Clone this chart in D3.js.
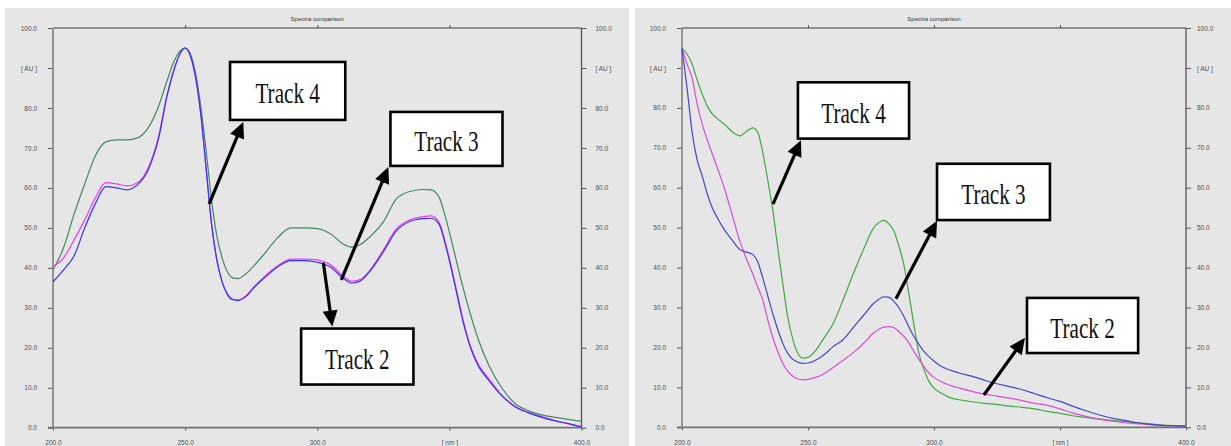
<!DOCTYPE html>
<html>
<head>
<meta charset="utf-8">
<script src="https://cdn.jsdelivr.net/npm/d3@7"></script>
<style>
  html, body { margin: 0; padding: 0; background: #ffffff; }
  svg { display: block; }
  .axis text { font-family: "Liberation Sans", Arial, sans-serif; font-size: 6.5px; fill: #4f4f4f; }
  .axis line { stroke: #555555; stroke-width: 1; }
  .axis path.domain { display: none; }
  .title { font-family: "Liberation Sans", Arial, sans-serif; font-size: 6px; fill: #333333; }
  .note text { font-family: "Liberation Serif", "Times New Roman", serif; font-size: 29px; fill: #111111; }
</style>
</head>
<body>
<svg id="chart" width="1231" height="446"></svg>
<script>
// ---- spectra, left comparison (absorbance in AU vs wavelength in nm) ----
const leftWavelengths = [200,204,208,212,216,220,224,228,232,236,240,243,246,248,250,252,254,256,258,260,262,264,266,268,270,273,276,280,285,290,295,300,305,310,313,316,320,325,330,335,340,343,346,349,352,355,358,361,365,370,375,380,385,390,395,400];
const leftTrack4 = [39.5,45,53.5,61,68,71.5,72,72,72.5,75,80.5,86.5,92,94.2,95,93.5,88.5,80,69,57,48,42.5,39,37.5,37.3,38.5,40.5,43.5,47.5,50,50,49.8,48.5,45.9,45.2,45.7,47.8,51.5,57.3,59.1,59.6,59.5,57.8,51.5,43.5,35.5,28.3,22,15.5,9.8,6,4.2,3.2,2.6,2.1,1.6];
const leftTrack3 = [36.5,39.5,43,50,56,60.3,60,59.5,60.8,64.5,72.5,82.5,90,93.5,95,93,87.5,78,64.5,51,42,36.5,33.3,32,31.8,32.8,35,37.5,40.2,41.8,41.8,41.4,40.2,37.3,36.2,36.6,39.2,44,49.3,51.6,52.3,52.4,51,44.5,36,27,20,15.4,11.8,7.9,5.2,3.7,2.6,1.7,1.0,0.2];
const leftTrack2 = [40.3,42.5,47,52,57.5,61.3,61,60.5,61.3,65,73,82.8,90,93.5,95,93,87.5,78,64.5,51,42,36.5,33.5,32.2,32,33,35.2,37.8,40.5,42.2,42.2,42,40.8,37.8,36.7,37,39.5,44.5,49.8,52,52.8,53,51.5,45,36.5,27.5,20.3,15.8,12.2,8,5.3,3.8,2.8,1.8,1.0,0.2];

// ---- spectra, right comparison ----
const rightWavelengths = [200,202,204,206,208,210,212,214,217,220,223,226,228,230,232,234,236,238,240,242,244,246,248,250,253,256,260,264,268,272,276,278,280,282,284,286,288,290,292,294,296,298,300,303,306,310,315,320,325,330,335,340,345,350,355,360,365,370,375,380,385,390,395,400];
const rightTrack4 = [94.9,93.5,91,87,83.5,80.5,78.5,77.3,75.8,74,73,74.3,75,74,69,62,54.5,45,36,27.5,22,18.5,17.3,17.5,19.2,22,26,32,38.5,44.5,49.9,51.2,51.8,51,49.3,45.5,40.8,33.5,25.8,18.5,14.5,11.5,9.8,8.5,7.5,6.9,6.4,6,5.7,5.3,5,4.6,4,3.5,2.9,2.5,2.1,1.8,1.5,1.2,0.9,0.6,0.4,0.3];
const rightTrack3 = [94.9,85,74,67,63,58.5,55,52.5,49.3,46.8,44.5,43.8,43.3,41.5,37.5,33,28.5,24.5,21,18.5,17,16.3,16,16.1,16.8,18,20.2,22,25,28,31,32,32.7,32.6,31.6,30,27.8,25.2,22.8,20.8,19,17.7,16.6,15.2,14.4,13.6,12.8,11.8,10.9,10.2,9.4,8.4,7.4,6.5,5.3,4.2,3.2,2.4,1.8,1.2,0.8,0.5,0.4,0.3];
const rightTrack2 = [94.9,91,87.5,81,76,72,68.5,65,59.5,53,46.5,41.5,38.5,35.2,32,27,22.5,19,16,14,12.8,12.1,11.9,12,12.5,13.3,15,16.8,18.7,21,23.6,24.5,25.1,25.2,25,24,22.8,21.2,19,17,15.2,13.6,12.5,11.4,10.6,9.8,9,8.3,7.8,7.3,6.7,6,5.5,4.6,3.6,2.8,2.1,1.6,1.2,0.9,0.7,0.5,0.4,0.3];

// ---- axis ticks and labels ----
const xTickValues = [200, 250, 300, 350, 400];
const xTickLabels = ["200.0", "250.0", "300.0", "[ nm ]", "400.0"];
const xTopTickValues = [250, 300, 350];
const yTickValues = [0, 10, 20, 30, 40, 50, 60, 70, 80, 90, 100];
const yTickLabels = ["0.0", "10.0", "20.0", "30.0", "40.0", "50.0", "60.0", "70.0", "80.0", "[ AU ]", "100.0"];
const titleText = "Spectra comparison";
const trackNames = ["Track 4", "Track 3", "Track 2"];

// ---- panel layout and styling ----
const panels = [
  {
    bg: { x: 5, y: 8, w: 624, h: 438 },
    plot: { left: 53, right: 581.5, top: 28, bottom: 427.7 },
    rightPad: 9,
    wl: leftWavelengths,
    series: [
      { values: leftTrack4, color: "#3d8a62" },
      { values: leftTrack2, color: "#f03cf0" },
      { values: leftTrack3, color: "#3434f4" }
    ],
    // annotation boxes and arrows, placed in data units (nm, AU)
    notes: [
      { label: trackNames[0], box: [267.0, 310.6, 91.5, 77.0], tail: [259.1, 56.0], tip: [272.0, 76.5] },
      { label: trackNames[1], box: [327.7, 370.1, 79.0, 65.5], tail: [309.1, 37.0], tip: [326.9, 65.2] },
      { label: trackNames[2], box: [293.9, 336.4, 24.8, 10.8], tail: [302.3, 41.3], tip: [305.7, 25.3] }
    ]
  },
  {
    bg: { x: 635, y: 8, w: 596, h: 438 },
    plot: { left: 682, right: 1186, top: 28, bottom: 427.3 },
    rightPad: 6,
    wl: rightWavelengths,
    series: [
      { values: rightTrack4, color: "#3faa3f" },
      { values: rightTrack2, color: "#d84ed8" },
      { values: rightTrack3, color: "#4646cc" }
    ],
    notes: [
      { label: trackNames[0], box: [246.0, 290.1, 86.4, 72.3], tail: [236.1, 55.9], tip: [247.2, 71.9] },
      { label: trackNames[1], box: [301.2, 346.0, 66.0, 51.9], tail: [284.9, 32.2], tip: [301.2, 51.7] },
      { label: trackNames[2], box: [336.9, 381.0, 32.4, 18.6], tail: [319.8, 8.1], tip: [336.1, 22.4] }
    ]
  }
];

const svg = d3.select("#chart");

panels.forEach(p => {
  const g = svg.append("g");
  const x = d3.scaleLinear().domain([200, 400]).range([p.plot.left, p.plot.right]);
  const y = d3.scaleLinear().domain([0, 100]).range([p.plot.bottom, p.plot.top]);

  g.append("rect")
    .attr("x", p.bg.x).attr("y", p.bg.y)
    .attr("width", p.bg.w).attr("height", p.bg.h)
    .attr("fill", "#e6e6e6");

  // title
  g.append("text").attr("class", "title")
    .attr("x", (p.plot.left + p.plot.right) / 2).attr("y", 21)
    .attr("text-anchor", "middle")
    .text(titleText);

  // axes
  g.append("g").attr("class", "axis")
    .attr("transform", `translate(${p.plot.left},0)`)
    .call(d3.axisLeft(y).tickValues(yTickValues)
      .tickFormat((d, i) => yTickLabels[i]).tickSize(5).tickPadding(11));

  g.append("g").attr("class", "axis")
    .attr("transform", `translate(${p.plot.right},0)`)
    .call(d3.axisRight(y).tickValues(yTickValues)
      .tickFormat((d, i) => yTickLabels[i]).tickSize(5).tickPadding(p.rightPad));

  g.append("g").attr("class", "axis")
    .attr("transform", `translate(0,${p.plot.bottom})`)
    .call(d3.axisBottom(x).tickValues(xTickValues)
      .tickFormat((d, i) => xTickLabels[i]).tickSize(3).tickPadding(10));

  g.append("g").attr("class", "axis")
    .attr("transform", `translate(0,${p.plot.top})`)
    .call(d3.axisTop(x).tickValues(xTopTickValues).tickFormat("").tickSize(3));

  // frame
  g.append("line")
    .attr("x1", p.plot.left).attr("x2", p.plot.right)
    .attr("y1", p.plot.top).attr("y2", p.plot.top)
    .attr("stroke", "#3a3a3a").attr("stroke-width", 1.2);
  g.append("line")
    .attr("x1", p.plot.right).attr("x2", p.plot.right)
    .attr("y1", p.plot.top).attr("y2", p.plot.bottom)
    .attr("stroke", "#555555").attr("stroke-width", 1.3);
  g.append("line")
    .attr("x1", p.plot.left - 5).attr("x2", p.plot.right)
    .attr("y1", p.plot.bottom).attr("y2", p.plot.bottom)
    .attr("stroke", "#707070").attr("stroke-width", 1.8);
  g.append("line")
    .attr("x1", p.plot.left).attr("x2", p.plot.left)
    .attr("y1", p.plot.top).attr("y2", p.plot.bottom)
    .attr("stroke", "#8a8a8a").attr("stroke-width", 1.8);

  // spectra
  const line = d3.line()
    .x((d, i) => x(p.wl[i]))
    .y(d => y(d))
    .curve(d3.curveMonotoneX);

  p.series.forEach(s => {
    g.append("path")
      .datum(s.values)
      .attr("fill", "none")
      .attr("stroke", s.color)
      .attr("stroke-width", 1.2)
      .attr("stroke-linejoin", "round")
      .attr("d", line);
  });

  // annotation callouts
  p.notes.forEach(n => {
    const ng = g.append("g").attr("class", "note");
    const bx0 = x(n.box[0]), bx1 = x(n.box[1]);
    const by0 = y(n.box[2]), by1 = y(n.box[3]);

    const tx = x(n.tail[0]), ty = y(n.tail[1]);
    const hx = x(n.tip[0]), hy = y(n.tip[1]);
    const len = Math.hypot(hx - tx, hy - ty);
    const ux = (hx - tx) / len, uy = (hy - ty) / len;
    const headLen = 16, headHalf = 7.5;
    const bx = hx - ux * headLen, by = hy - uy * headLen;

    ng.append("line")
      .attr("x1", tx).attr("y1", ty)
      .attr("x2", bx + ux * 2).attr("y2", by + uy * 2)
      .attr("stroke", "#000").attr("stroke-width", 3.2);
    ng.append("path")
      .attr("d", `M${hx},${hy}L${bx - uy * headHalf},${by + ux * headHalf}L${bx + uy * headHalf},${by - ux * headHalf}Z`)
      .attr("fill", "#000");

    ng.append("rect")
      .attr("x", bx0).attr("y", by0)
      .attr("width", bx1 - bx0).attr("height", by1 - by0)
      .attr("fill", "#ffffff").attr("stroke", "#000").attr("stroke-width", 2.6);

    const cx = (bx0 + bx1) / 2, cy = (by0 + by1) / 2;
    ng.append("text")
      .attr("transform", `translate(${cx},${cy + 12.5}) scale(0.73,1)`)
      .attr("text-anchor", "middle")
      .text(n.label);
  });
});
</script>
</body>
</html>
